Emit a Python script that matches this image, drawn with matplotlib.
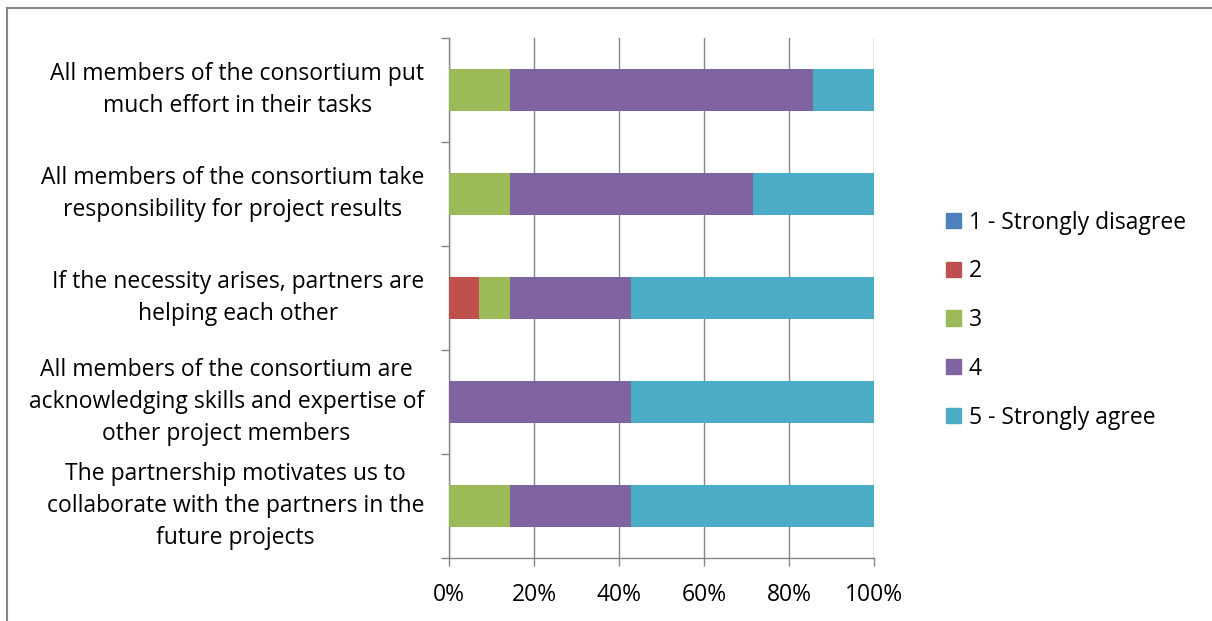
import matplotlib.pyplot as plt
from matplotlib.patches import Patch
from matplotlib.lines import Line2D
import numpy as np

plt.rcParams['font.family'] = ['Open Sans', 'DejaVu Sans']

statements = [
    "All members of the consortium put\nmuch effort in their tasks",
    "All members of the consortium take\nresponsibility for project results",
    "If the necessity arises, partners are\nhelping each other",
    "All members of the consortium are\nacknowledging skills and expertise of\nother project members",
    "The partnership motivates us to\ncollaborate with the partners in the\nfuture projects",
]
answers = ["1 - Strongly disagree", "2", "3", "4", "5 - Strongly agree"]
colors = ["#4F81BD", "#C0504D", "#9BBB59", "#8064A2", "#4BACC6"]

# share of respondents (%), one list per answer, rows in statement order
s1 = [0, 0, 0, 0, 0]
s2 = [0, 0, 7.14, 0, 0]
s3 = [14.29, 14.29, 7.14, 0, 14.29]
s4 = [71.43, 57.14, 28.57, 42.86, 28.57]
s5 = [14.29, 28.57, 57.14, 57.14, 57.14]
series = [s1, s2, s3, s4, s5]

fs = 16.5
W, H = 1212, 621
fig = plt.figure(figsize=(W / 100, H / 100), dpi=100)
ax = fig.add_axes([449 / W, (H - 558) / H, 425 / W, 520 / H])

y = np.arange(len(statements))
left = np.zeros(len(statements))
for vals, c in zip(series, colors):
    ax.barh(y, vals, left=left, height=0.4, color=c, zorder=3)
    left += np.array(vals)

ax.set_xlim(0, 100)
ax.set_ylim(4.5, -0.5)
ax.set_xticks(np.arange(0, 101, 20))
ax.set_xticklabels([f"{v}%" for v in range(0, 101, 20)], fontsize=fs)
ax.xaxis.grid(True, color="#868686", linewidth=1.0, zorder=0)
ax.tick_params(axis="x", length=5.8, width=1.0, color="#868686", pad=12.5)

ax.set_yticks(np.arange(-0.5, 5, 1))
ax.set_yticklabels([])
ax.tick_params(axis="y", length=5.8, width=1.0, color="#868686")

for sp in ["top", "right"]:
    ax.spines[sp].set_visible(False)
for sp in ["left", "bottom"]:
    ax.spines[sp].set_color("#868686")
    ax.spines[sp].set_linewidth(1.0)

for i, s in enumerate(statements):
    ax.text(-0.0588, i, s, transform=ax.get_yaxis_transform(), ha="right",
            va="center", multialignment="center", fontsize=fs,
            linespacing=1.47)

handles = [Patch(color=c) for c in colors]
fig.legend(handles, answers, loc="upper left", bbox_to_anchor=(925 / W, 1 - 190 / H),
           frameon=False, fontsize=fs, handlelength=0.65, handleheight=0.65,
           handletextpad=0.35, labelspacing=1.08)

# outer chart border (top and left visible)
fig.add_artist(Line2D([6.5 / W, 1], [1 - 7.5 / H, 1 - 7.5 / H], color="#868686",
                      linewidth=1.5, transform=fig.transFigure))
fig.add_artist(Line2D([6.5 / W, 6.5 / W], [0, 1 - 7.5 / H], color="#868686",
                      linewidth=1.5, transform=fig.transFigure))

fig.savefig("out.png", dpi=100)
